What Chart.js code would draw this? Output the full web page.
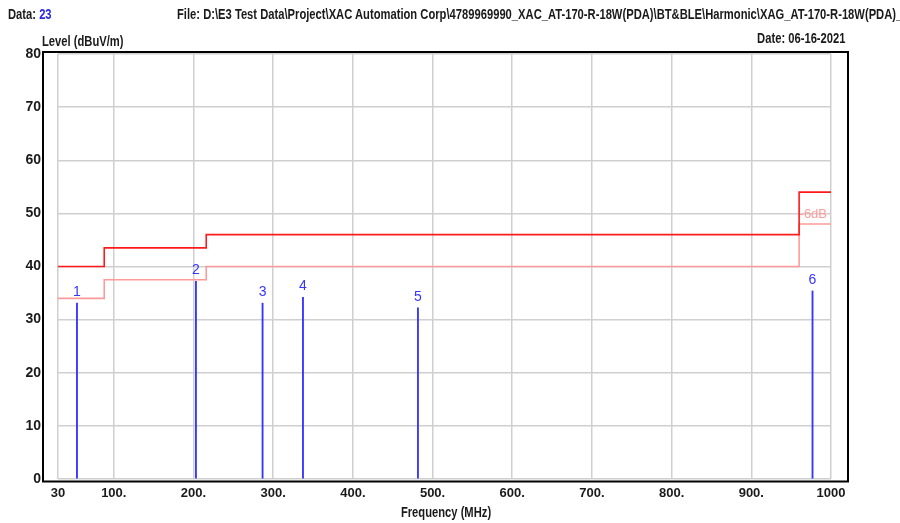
<!DOCTYPE html>
<html>
<head>
<meta charset="utf-8">
<script src="https://cdn.jsdelivr.net/npm/chart.js@4.4.0/dist/chart.umd.min.js"></script>
<style>
    body { margin: 0; background: #fff; }
    #quadro { position: relative; width: 900px; height: 523px; overflow: hidden;
        font-family: "Liberation Sans", Arial, sans-serif; font-size: 14px; font-weight: bold; color: #1a1a1a; }
    .texto { position: absolute; white-space: nowrap; line-height: 16px; transform: scaleX(0.8); transform-origin: left top; }
</style>
</head>
<body>
<div id="quadro">
    <canvas id="graficoEmissao" width="900" height="523"></canvas>
    <div class="texto" style="left:8px; top:6px;">Data: <span style="color:#2828e6;">23</span></div>
    <div class="texto" style="left:177px; top:6px;">File: D:\E3 Test Data\Project\XAC Automation Corp\4789969990_XAC_AT-170-R-18W(PDA)\BT&amp;BLE\Harmonic\XAG_AT-170-R-18W(PDA)_I</div>
    <div class="texto" style="right:54px; top:30px; transform-origin:right top;">Date: 06-16-2021</div>
    <div class="texto" style="left:42px; top:33px;">Level (dBuV/m)</div>
    <div class="texto" style="left:446px; top:504px; transform:translateX(-50%) scaleX(0.8); transform-origin:center top;">Frequency (MHz)</div>
</div>
<script>
var fonte = '"Liberation Sans", Arial, sans-serif';

// limite (degraus) e margem de -6dB
var frequenciasLimite = [30, 88, 216, 960, 1000];
var nivelLimite = [40, 43.5, 46, 54, 54];
var nivelMargem = [34, 37.5, 40, 48, 48];

// marcadores medidos
var marcadores = ['1', '2', '3', '4', '5', '6'];
var freqMarcadores = [53.8, 203.1, 286.7, 337.4, 481.7, 976.8];
var nivelMarcadores = [33.1, 37.2, 33.1, 34.2, 32.2, 35.4];

var ticksFrequencia = [30, 100, 200, 300, 400, 500, 600, 700, 800, 900, 1000];
var rotulosFrequencia = ['30', '100.', '200.', '300.', '400.', '500.', '600.', '700.', '800.', '900.', '1000'];
var ticksNivel = [0, 10, 20, 30, 40, 50, 60, 70, 80];

var Relatorio = Relatorio || {};

Relatorio.GraficoEmissao = (function() {

    function GraficoEmissao() {
        this.ctx = document.getElementById('graficoEmissao').getContext('2d');
    }

    GraficoEmissao.prototype.iniciar = function() {
        var pontosLimite = frequenciasLimite.map(function(f, i) {
            return { x: f, y: nivelLimite[i] };
        });
        var pontosMargem = frequenciasLimite.map(function(f, i) {
            return { x: f, y: nivelMargem[i] };
        });
        var pontosMarcadores = freqMarcadores.map(function(f, i) {
            return { x: f, y: nivelMarcadores[i] };
        });

        new Chart(this.ctx, {
            type: 'line',
            data: {
                datasets: [{
                    label: 'Limite',
                    data: pontosLimite,
                    borderColor: '#ff1a1a',
                    borderWidth: 1.6,
                    stepped: true,
                    pointRadius: 0,
                    fill: false,
                },
                {
                    label: 'Margem',
                    data: pontosMargem,
                    borderColor: '#ff9a9a',
                    borderWidth: 1.6,
                    stepped: true,
                    pointRadius: 0,
                    fill: false,
                },
                {
                    type: 'bar',
                    label: 'Marcadores',
                    data: pontosMarcadores,
                    backgroundColor: '#3535ff',
                    barThickness: 1.2,
                    borderWidth: 0,
                }],
            },
            options: {
                responsive: false,
                animation: false,
                layout: { padding: { top: 54, right: 69, left: 0, bottom: 0 } },
                plugins: {
                    legend: { display: false },
                    tooltip: { enabled: false },
                },
                scales: {
                    x: {
                        type: 'linear',
                        min: 30,
                        max: 1000,
                        offset: false,
                        afterBuildTicks: function(escala) {
                            escala.ticks = ticksFrequencia.map(function(v) { return { value: v }; });
                        },
                        afterFit: function(escala) { escala.height = 44; },
                        grid: { color: '#cfcfcf', lineWidth: 1.5, drawTicks: false, offset: false },
                        border: { display: false },
                        ticks: {
                            autoSkip: false,
                            maxRotation: 0,
                            padding: 7,
                            color: '#1a1a1a',
                            font: { family: fonte, size: 13, weight: 'bold' },
                            callback: function(valor) {
                                return rotulosFrequencia[ticksFrequencia.indexOf(valor)];
                            },
                        },
                    },
                    y: {
                        min: 0,
                        max: 80,
                        afterBuildTicks: function(escala) {
                            escala.ticks = ticksNivel.map(function(v) { return { value: v }; });
                        },
                        afterFit: function(escala) { escala.width = 58; },
                        grid: { color: '#cfcfcf', lineWidth: 1.5, drawTicks: false },
                        border: { display: false },
                        ticks: {
                            padding: 17,
                            color: '#1a1a1a',
                            font: { family: fonte, size: 14, weight: 'bold' },
                        },
                    },
                },
            },
            plugins: [{
                id: 'moldura',
                afterDraw: function(grafico) {
                    var area = grafico.chartArea;
                    var c = grafico.ctx;
                    c.save();
                    c.strokeStyle = '#000';
                    c.lineWidth = 2;
                    c.strokeRect(area.left - 15, area.top - 2, area.right - area.left + 32, area.bottom - area.top + 4.5);
                    c.restore();
                },
            },
            {
                id: 'rotulos',
                afterDatasetsDraw: function(grafico) {
                    var c = grafico.ctx;
                    var ex = grafico.scales.x;
                    var ey = grafico.scales.y;
                    c.save();
                    c.font = '14px ' + fonte;
                    c.fillStyle = '#3535ff';
                    c.textAlign = 'center';
                    c.textBaseline = 'middle';
                    marcadores.forEach(function(nome, i) {
                        c.fillText(nome, ex.getPixelForValue(freqMarcadores[i]), ey.getPixelForValue(nivelMarcadores[i]) - 11);
                    });
                    c.font = '13px ' + fonte;
                    c.fillStyle = '#ff9a9a';
                    c.textAlign = 'right';
                    c.fillText('-6dB', ex.getPixelForValue(995), ey.getPixelForValue(49.8));
                    c.restore();
                },
            }],
        });
    };

    return GraficoEmissao;

}());

var graficoEmissao = new Relatorio.GraficoEmissao();
graficoEmissao.iniciar();
</script>
</body>
</html>
